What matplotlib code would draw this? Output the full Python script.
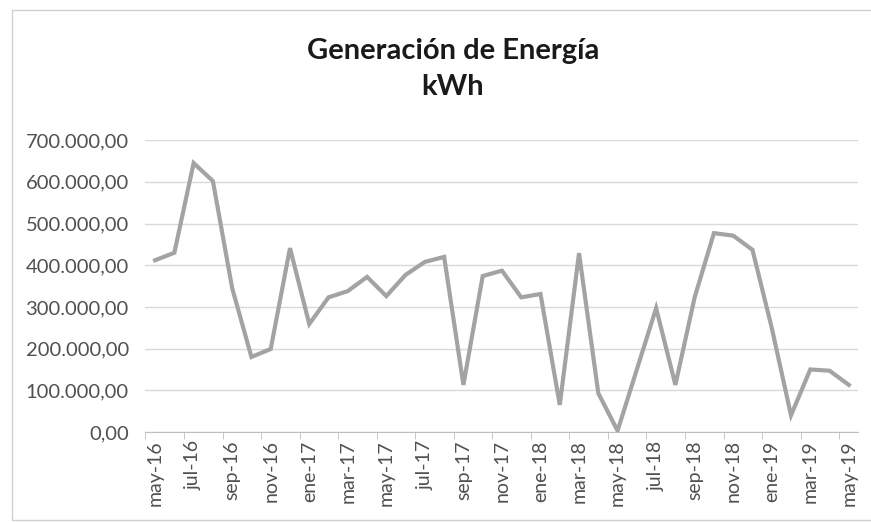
import matplotlib
matplotlib.use('Agg')
import matplotlib.pyplot as plt
from matplotlib.patches import Rectangle
from matplotlib.ticker import FuncFormatter

months = [
    'may-16', 'jun-16', 'jul-16', 'ago-16', 'sep-16', 'oct-16', 'nov-16', 'dic-16',
    'ene-17', 'feb-17', 'mar-17', 'abr-17', 'may-17', 'jun-17', 'jul-17', 'ago-17',
    'sep-17', 'oct-17', 'nov-17', 'dic-17', 'ene-18', 'feb-18', 'mar-18', 'abr-18',
    'may-18', 'jun-18', 'jul-18', 'ago-18', 'sep-18', 'oct-18', 'nov-18', 'dic-18',
    'ene-19', 'feb-19', 'mar-19', 'abr-19', 'may-19',
]

energy_kwh = [
    412000, 430000, 645000, 602000, 345000, 180000, 199000, 441000,
    259000, 323000, 338000, 372000, 326000, 377000, 408000, 420000,
    113000, 374000, 387000, 323000, 331000, 65000, 429000, 93000,
    3000, 150000, 297000, 113000, 323000, 477000, 471000, 437000,
    250000, 40000, 150000, 147000, 113000,
]

title_main = 'Generación de Energía'
title_unit = 'kWh'

plt.rcParams['font.family'] = ['Lato', 'DejaVu Sans']

fig = plt.figure(figsize=(8.71, 5.23), dpi=100)
ax = fig.add_axes([0.167, 0.174, 0.8186, 0.558])

x = list(range(len(months)))
ax.plot(x, energy_kwh, color='#a3a3a3', linewidth=3.0, solid_joinstyle='miter')

ax.set_xlim(-0.5, len(months) - 0.5)
ax.set_ylim(0, 700000)
ax.set_yticks(range(0, 700001, 100000))
ax.yaxis.set_major_formatter(FuncFormatter(
    lambda v, _: '{:,.2f}'.format(v).replace(',', 'X').replace('.', ',').replace('X', '.')))

ax.set_xticks(x[::2])
ax.set_xticklabels(months[::2], rotation=90)
ax.set_xticks([i - 0.5 for i in range(0, len(months) + 1, 2)], minor=True)
ax.tick_params(axis='x', which='major', length=0, pad=6, labelsize=14, colors='#505050')
ax.tick_params(axis='x', which='minor', length=5, color='#bfbfbf')
ax.tick_params(axis='y', length=0, pad=12, labelsize=14.5, colors='#505050')

ax.grid(axis='y', color='#d9d9d9', linewidth=1)
ax.set_axisbelow(True)
for side in ('left', 'right', 'top'):
    ax.spines[side].set_visible(False)
ax.spines['bottom'].set_color('#bfbfbf')

fig.text(0.52, 1 - 51 / 523, title_main, ha='center', va='center', fontsize=21,
         fontweight='bold', color='#1a1a1a')
fig.text(0.52, 1 - 87 / 523, title_unit, ha='center', va='center', fontsize=21,
         fontweight='bold', color='#1a1a1a')

fig.patches.append(Rectangle((12 / 871, 3 / 523), 1.0, 510 / 523, transform=fig.transFigure,
                             fill=False, edgecolor='#d0d0d0', linewidth=1))

fig.savefig('out.png', dpi=100)
